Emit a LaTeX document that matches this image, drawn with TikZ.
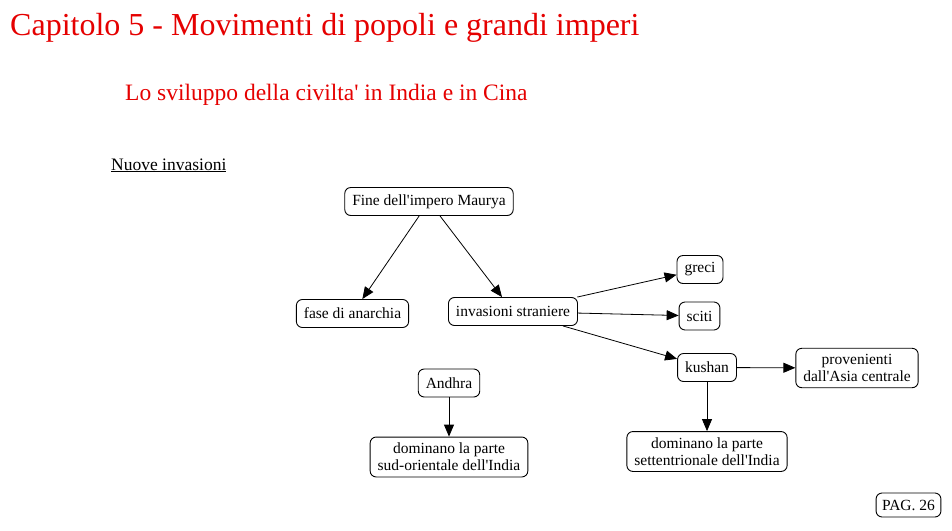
\documentclass[tikz,border=0pt]{standalone}
\usepackage{fontspec}
\setmainfont{Liberation Serif}
\usetikzlibrary{arrows.meta}

\begin{document}
\begin{tikzpicture}[x=1pt,y=-1pt,
  box/.style={draw=black,line width=0.9pt,rounded corners=6pt,fill=white,
    align=center,inner xsep=7.5pt,inner ysep=6pt,minimum height=28pt,
    font=\fontsize{15.5}{17}\selectfont},
  link/.style={-{Triangle[length=12pt,width=10pt]},line width=0.8pt},
  title/.style={font=\fontsize{32}{36}\selectfont,text=red!90!black,anchor=base west,inner sep=0pt},
  subtitle/.style={font=\fontsize{23.5}{26}\selectfont,text=red!90!black,anchor=base west,inner sep=0pt},
]
\useasboundingbox (0,0) rectangle (952,530);
\node[title] (cap) at (10,35) {Capitolo 5 - Movimenti di popoli e grandi imperi};
\node[subtitle] (sub) at (125,100) {Lo sviluppo della civilta\textquotesingle{} in India e in Cina};
\node[font=\fontsize{17.5}{19}\selectfont,anchor=base west,inner sep=0pt] (sez) at (111,170) {\underline{Nuove invasioni}};
% nodi della mappa
\node[box] (fine) at (429,201.5) {Fine dell\textquotesingle impero Maurya};
\node[box] (fase) at (352.5,313.5) {fase di anarchia};
\node[box] (inv) at (513,311.5) {invasioni straniere};
\node[box] (greci) at (700,269.5) {greci};
\node[box] (sciti) at (699.5,316) {sciti};
\node[box] (kushan) at (707,367.5) {kushan};
\node[box] (prov) at (857,368) {provenienti\\dall\textquotesingle Asia centrale};
\node[box] (sett) at (707,451.5) {dominano la parte\\settentrionale dell\textquotesingle India};
\node[box] (andhra) at (449,383) {Andhra};
\node[box] (sud) at (449,457) {dominano la parte\\sud-orientale dell\textquotesingle India};
\node[box,minimum height=24pt,inner xsep=6pt,inner ysep=4pt] (pag) at (908.5,505) {PAG. 26};
% frecce
\draw[link] (fine) -- (fase);
\draw[link] (fine) -- (inv);
\draw[link] (inv) -- (greci);
\draw[link] (inv) -- (sciti);
\draw[link] (inv) -- (kushan);
\draw[link] (kushan) -- (prov);
\draw[link] (kushan) -- (sett);
\draw[link] (andhra) -- (sud);
\end{tikzpicture}
\end{document}
